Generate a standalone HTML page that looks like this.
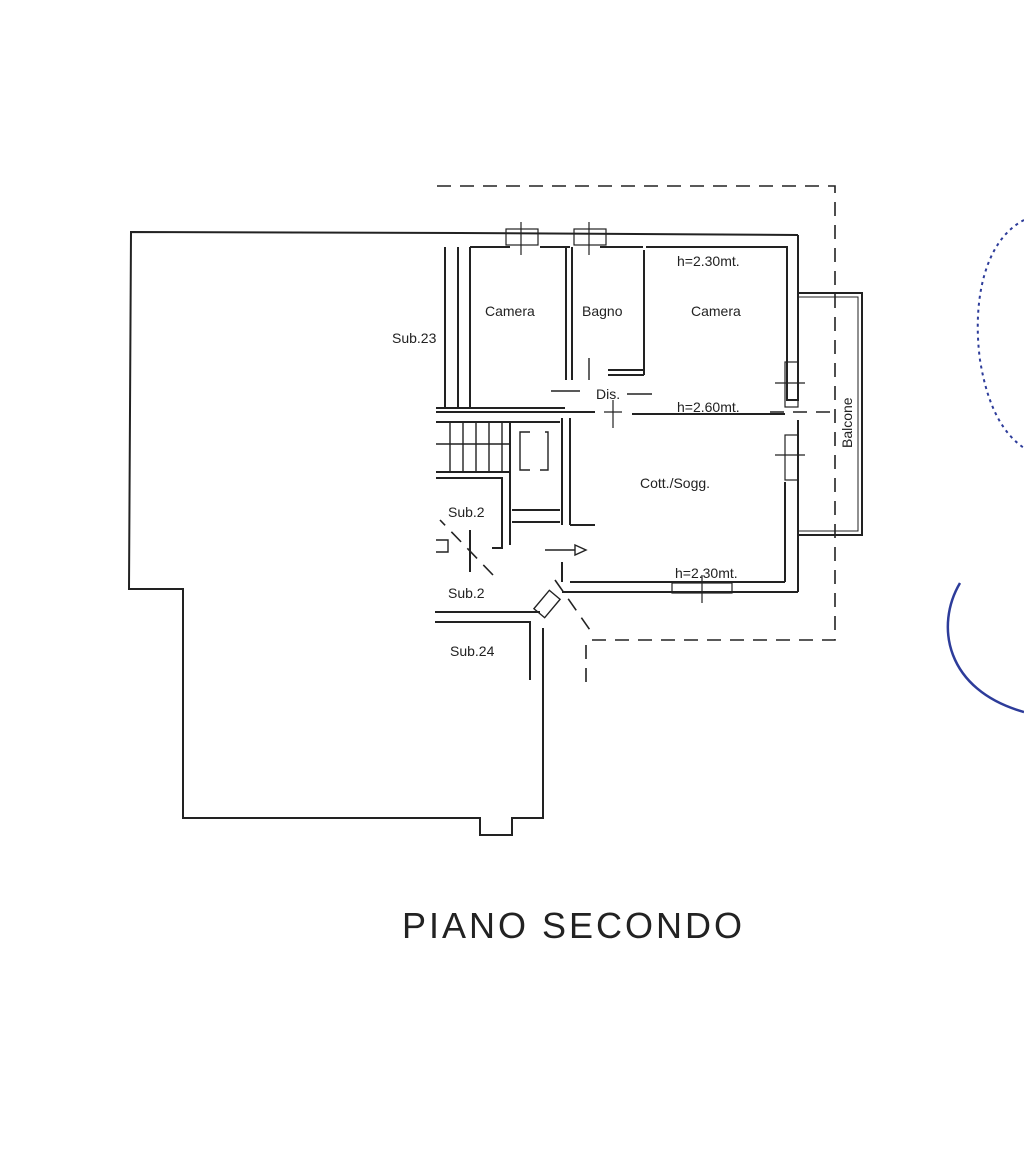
<!DOCTYPE html>
<html><head><meta charset="utf-8"><style>
html,body{margin:0;padding:0;background:#fff;}
svg{display:block}
text{font-family:"Liberation Sans",sans-serif;fill:#222}
</style></head><body>
<svg width="1024" height="1157" viewBox="0 0 1024 1157" xmlns="http://www.w3.org/2000/svg">
<g fill="none" stroke="#222" stroke-width="2">
<polyline points="460,233 131,232 129,589 183,589 183,818 480,818 480,835 512,835 512,818 543,818 543,628"/>
<line x1="460" y1="233" x2="798" y2="235"/>
<g stroke-dasharray="14,9" stroke-width="1.6">
<polyline points="437,186 835,186 835,640 590,640"/>
<line x1="586" y1="645" x2="586" y2="685"/>
<line x1="770" y1="412" x2="835" y2="412"/>
<line x1="493" y1="575" x2="440" y2="520"/>
<line x1="555" y1="580" x2="590" y2="630"/>
</g>
<polyline points="646,247 787,247 787,400 798,400 798,235"/>
<line x1="470" y1="247" x2="510" y2="247"/>
<line x1="540" y1="247" x2="570" y2="247"/>
<line x1="600" y1="247" x2="643" y2="247"/>
<line x1="458" y1="247" x2="458" y2="408"/>
<line x1="445" y1="247" x2="445" y2="408"/>
<line x1="470" y1="247" x2="470" y2="408"/>
<line x1="566" y1="247" x2="566" y2="380"/>
<line x1="572" y1="247" x2="572" y2="380"/>
<line x1="644" y1="250" x2="644" y2="375"/>
<line x1="608" y1="370" x2="644" y2="370"/>
<line x1="608" y1="375" x2="644" y2="375"/>
<line x1="436" y1="412" x2="595" y2="412"/>
<line x1="632" y1="414" x2="785" y2="414"/>
<line x1="436" y1="408" x2="565" y2="408"/>
<line x1="570" y1="418" x2="570" y2="525"/>
<line x1="562" y1="418" x2="562" y2="525"/>
<line x1="570" y1="582" x2="785" y2="582"/>
<line x1="562" y1="592" x2="798" y2="592"/>
<line x1="785" y1="482" x2="785" y2="582"/>
<line x1="798" y1="420" x2="798" y2="592"/>
<line x1="570" y1="525" x2="595" y2="525"/>
<line x1="562" y1="562" x2="562" y2="582"/>
<polyline points="798,293 862,293 862,535 798,535"/>
<polyline points="798,297 858,297 858,531 798,531" stroke-width="1"/>
<rect x="785" y="362" width="13" height="45" stroke-width="1.2"/>
<rect x="785" y="435" width="13" height="45" stroke-width="1.2"/>
<rect x="672" y="583" width="60" height="10" stroke-width="1.2"/>
<rect x="506" y="229" width="32" height="16" stroke-width="1.2"/>
<rect x="574" y="229" width="32" height="16" stroke-width="1.2"/>
<line x1="521" y1="222" x2="521" y2="255" stroke-width="1.2"/>
<line x1="589" y1="222" x2="589" y2="255" stroke-width="1.2"/>
<line x1="775" y1="383" x2="805" y2="383" stroke-width="1.2"/>
<line x1="775" y1="455" x2="805" y2="455" stroke-width="1.2"/>
<line x1="702" y1="575" x2="702" y2="603" stroke-width="1.2"/>
<line x1="613" y1="400" x2="613" y2="428" stroke-width="1.2"/>
<line x1="604" y1="412" x2="622" y2="412" stroke-width="1.2"/>
<line x1="436" y1="422" x2="560" y2="422"/>
<line x1="436" y1="472" x2="510" y2="472"/>
<line x1="510" y1="422" x2="510" y2="545"/>
<g stroke-width="1.4">
<line x1="450" y1="422" x2="450" y2="472"/><line x1="463" y1="422" x2="463" y2="472"/>
<line x1="476" y1="422" x2="476" y2="472"/><line x1="489" y1="422" x2="489" y2="472"/>
<line x1="502" y1="422" x2="502" y2="472"/><line x1="436" y1="444" x2="510" y2="444"/>
<polyline points="530,432 520,432 520,470 530,470"/>
<polyline points="545,432 548,432 548,470 540,470"/>
</g>
<polyline points="436,478 502,478 502,548 492,548"/>
<line x1="512" y1="510" x2="560" y2="510"/>
<line x1="512" y1="522" x2="560" y2="522"/>
<line x1="470" y1="530" x2="470" y2="572"/>
<polyline points="436,540 448,540 448,552 436,552" stroke-width="1.4"/>
<line x1="435" y1="612" x2="540" y2="612"/>
<polyline points="435,622 530,622 530,680"/>
<rect x="540" y="592" width="14" height="24" transform="rotate(40 547 604)" stroke-width="1.4"/>
<line x1="545" y1="550" x2="575" y2="550" stroke-width="1.4"/>
<polygon points="575,545 586,550 575,555" stroke-width="1.4"/>
<line x1="551" y1="391" x2="580" y2="391" stroke-width="1.4"/>
<line x1="627" y1="394" x2="652" y2="394" stroke-width="1.4"/>
<line x1="589" y1="358" x2="589" y2="380" stroke-width="1.4"/>
</g>
<g font-size="14">
<text x="485" y="316">Camera</text>
<text x="582" y="316">Bagno</text>
<text x="691" y="316">Camera</text>
<text x="392" y="343">Sub.23</text>
<text x="596" y="399">Dis.</text>
<text x="677" y="266">h=2.30mt.</text>
<text x="677" y="412">h=2.60mt.</text>
<text x="640" y="488">Cott./Sogg.</text>
<text x="675" y="578">h=2.30mt.</text>
<text x="448" y="517">Sub.2</text>
<text x="448" y="598">Sub.2</text>
<text x="450" y="656">Sub.24</text>
<text transform="translate(852,448) rotate(-90)">Balcone</text>
</g>
<text x="402" y="938" font-size="36" letter-spacing="3">PIANO SECONDO</text>
<g fill="none" stroke="#2d3c9a">
<path d="M1024,220 C985,240 972,300 980,360 C988,410 1005,435 1024,448" stroke-width="2" stroke-dasharray="3,4"/>
<path d="M960,583 C935,625 945,690 1024,712" stroke-width="2.5"/>
</g>
</svg>
</body></html>
